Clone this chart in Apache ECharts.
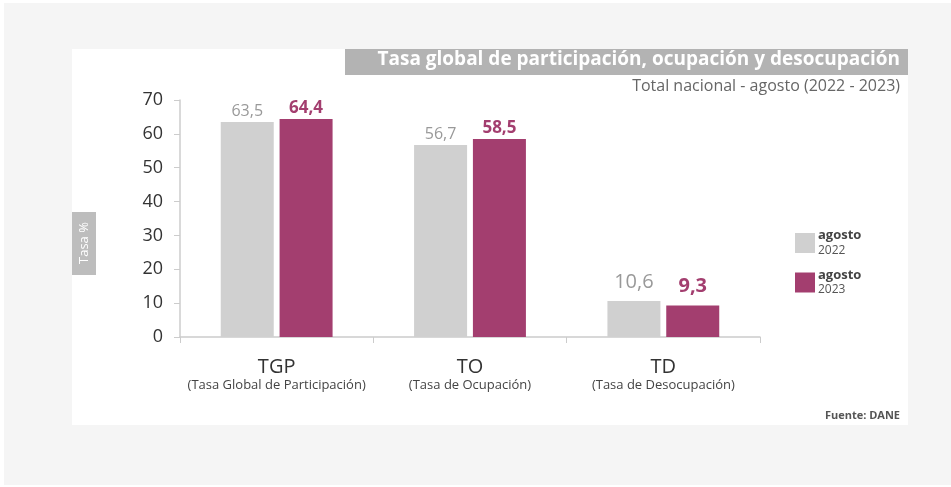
<!DOCTYPE html>
<html>
<head>
<meta charset="utf-8">
<script src="https://cdn.jsdelivr.net/npm/echarts@6/dist/echarts.min.js"></script>
<style>
  html, body { margin: 0; padding: 0; background: #fff; }
  #main { width: 951px; height: 487px; }
</style>
</head>
<body>
<div id="main"></div>
<script>
// datos
const categories = ['TGP', 'TO', 'TD'];
const categoryNames = ['(Tasa Global de Participación)', '(Tasa de Ocupación)', '(Tasa de Desocupación)'];
const values2022 = [63.5, 56.7, 10.6];
const values2023 = [64.4, 58.5, 9.3];
const yTicks = [0, 10, 20, 30, 40, 50, 60, 70];

const GRAY = '#d0d0d0';
const PURPLE = '#a33e6f';
const FONT = 'Open Sans';

const fmt = v => String(v).replace('.', ',');

// la ultima categoria lleva etiquetas mas grandes
function buildData(values, bigSize, offset) {
  return values.map((v, i) => {
    if (i === values.length - 1) {
      return { value: v, label: { fontSize: bigSize, distance: offset } };
    }
    return v;
  });
}

const option = {
  backgroundColor: '#ffffff',
  textStyle: { fontFamily: FONT },
  animation: false,
  graphic: [
    { type: 'rect', z: -10, shape: { x: 4, y: 3, width: 947, height: 482 }, style: { fill: '#f5f5f5' } },
    { type: 'rect', z: -9, shape: { x: 72, y: 49, width: 836, height: 376 }, style: { fill: '#ffffff' } },
    { type: 'rect', z: -8, shape: { x: 345, y: 49, width: 563, height: 26 }, style: { fill: '#b3b3b3' } },
    {
      type: 'text', right: 51, top: 50,
      style: { text: 'Tasa global de participación, ocupación y desocupación', fill: '#fff', font: 'bold 19px "Open Sans"' }
    },
    {
      type: 'text', right: 51, top: 78,
      style: { text: 'Total nacional - agosto (2022 - 2023)', fill: '#666', font: '16px "Open Sans"' }
    },
    { type: 'rect', z: -8, shape: { x: 72, y: 212, width: 24, height: 63 }, style: { fill: '#bdbdbd' } },
    {
      type: 'text', x: 84, y: 243, rotation: Math.PI / 2,
      style: { text: 'Tasa %', fill: '#fff', font: '13px "Open Sans"', align: 'center', verticalAlign: 'middle' }
    },
    {
      type: 'text', right: 51, top: 410,
      style: { text: 'Fuente: DANE', fill: '#555', font: 'bold 11px "Open Sans"' }
    }
  ],
  grid: { left: 180, right: 191, top: 100, bottom: 150 },
  legend: {
    orient: 'vertical',
    left: 790,
    top: 224,
    itemWidth: 20,
    itemHeight: 20,
    itemGap: 12,
    icon: 'rect',
    data: ['agosto 2022', 'agosto 2023'],
    formatter: name => {
      const p = name.split(' ');
      return '{a|' + p[0] + '}\n{b|' + p[1] + '}';
    },
    textStyle: {
      padding: [0, 0, 0, -2],
      rich: {
        a: { fontSize: 13, color: '#444', fontWeight: 'bold', fontFamily: FONT, lineHeight: 15 },
        b: { fontSize: 12, color: '#555', fontFamily: FONT, lineHeight: 15 }
      }
    }
  },
  xAxis: {
    type: 'category',
    data: categories,
    axisLine: { lineStyle: { color: '#cccccc', width: 1.5 } },
    axisTick: { show: true, length: 6, lineStyle: { color: '#cccccc' } },
    axisLabel: {
      interval: 0,
      hideOverlap: false,
      margin: 20,
      formatter: (val, idx) => '{t|' + val + '}\n{s|' + categoryNames[idx] + '}',
      rich: {
        t: { fontSize: 20, color: '#333', fontFamily: FONT, lineHeight: 20, align: 'center' },
        s: { fontSize: 13, color: '#444', fontFamily: FONT, lineHeight: 16, align: 'center' }
      }
    }
  },
  yAxis: {
    type: 'value',
    min: 0,
    max: 70,
    interval: 10,
    axisLine: { show: true, lineStyle: { color: '#cccccc', width: 1.5 } },
    axisTick: { show: true, length: 6, lineStyle: { color: '#cccccc' } },
    splitLine: { show: false },
    axisLabel: {
      margin: 17,
      fontSize: 18,
      color: '#333',
      fontFamily: FONT,
      formatter: v => (yTicks.includes(v) ? String(v) : '')
    }
  },
  series: [
    {
      name: 'agosto 2022',
      type: 'bar',
      data: buildData(values2022, 20, 9),
      barWidth: 53,
      barGap: '11%',
      itemStyle: { color: GRAY },
      label: {
        show: true,
        position: 'top',
        distance: 3,
        color: '#999',
        fontSize: 16,
        fontFamily: FONT,
        formatter: p => fmt(p.value)
      }
    },
    {
      name: 'agosto 2023',
      type: 'bar',
      data: buildData(values2023, 20, 9),
      barWidth: 53,
      itemStyle: { color: PURPLE },
      label: {
        show: true,
        position: 'top',
        distance: 2,
        color: PURPLE,
        fontSize: 17,
        fontWeight: 'bold',
        fontFamily: FONT,
        formatter: p => fmt(p.value)
      }
    }
  ]
};

const chartDom = document.getElementById('main');
const myChart = echarts.init(chartDom);
myChart.setOption(option);
</script>
</body>
</html>
